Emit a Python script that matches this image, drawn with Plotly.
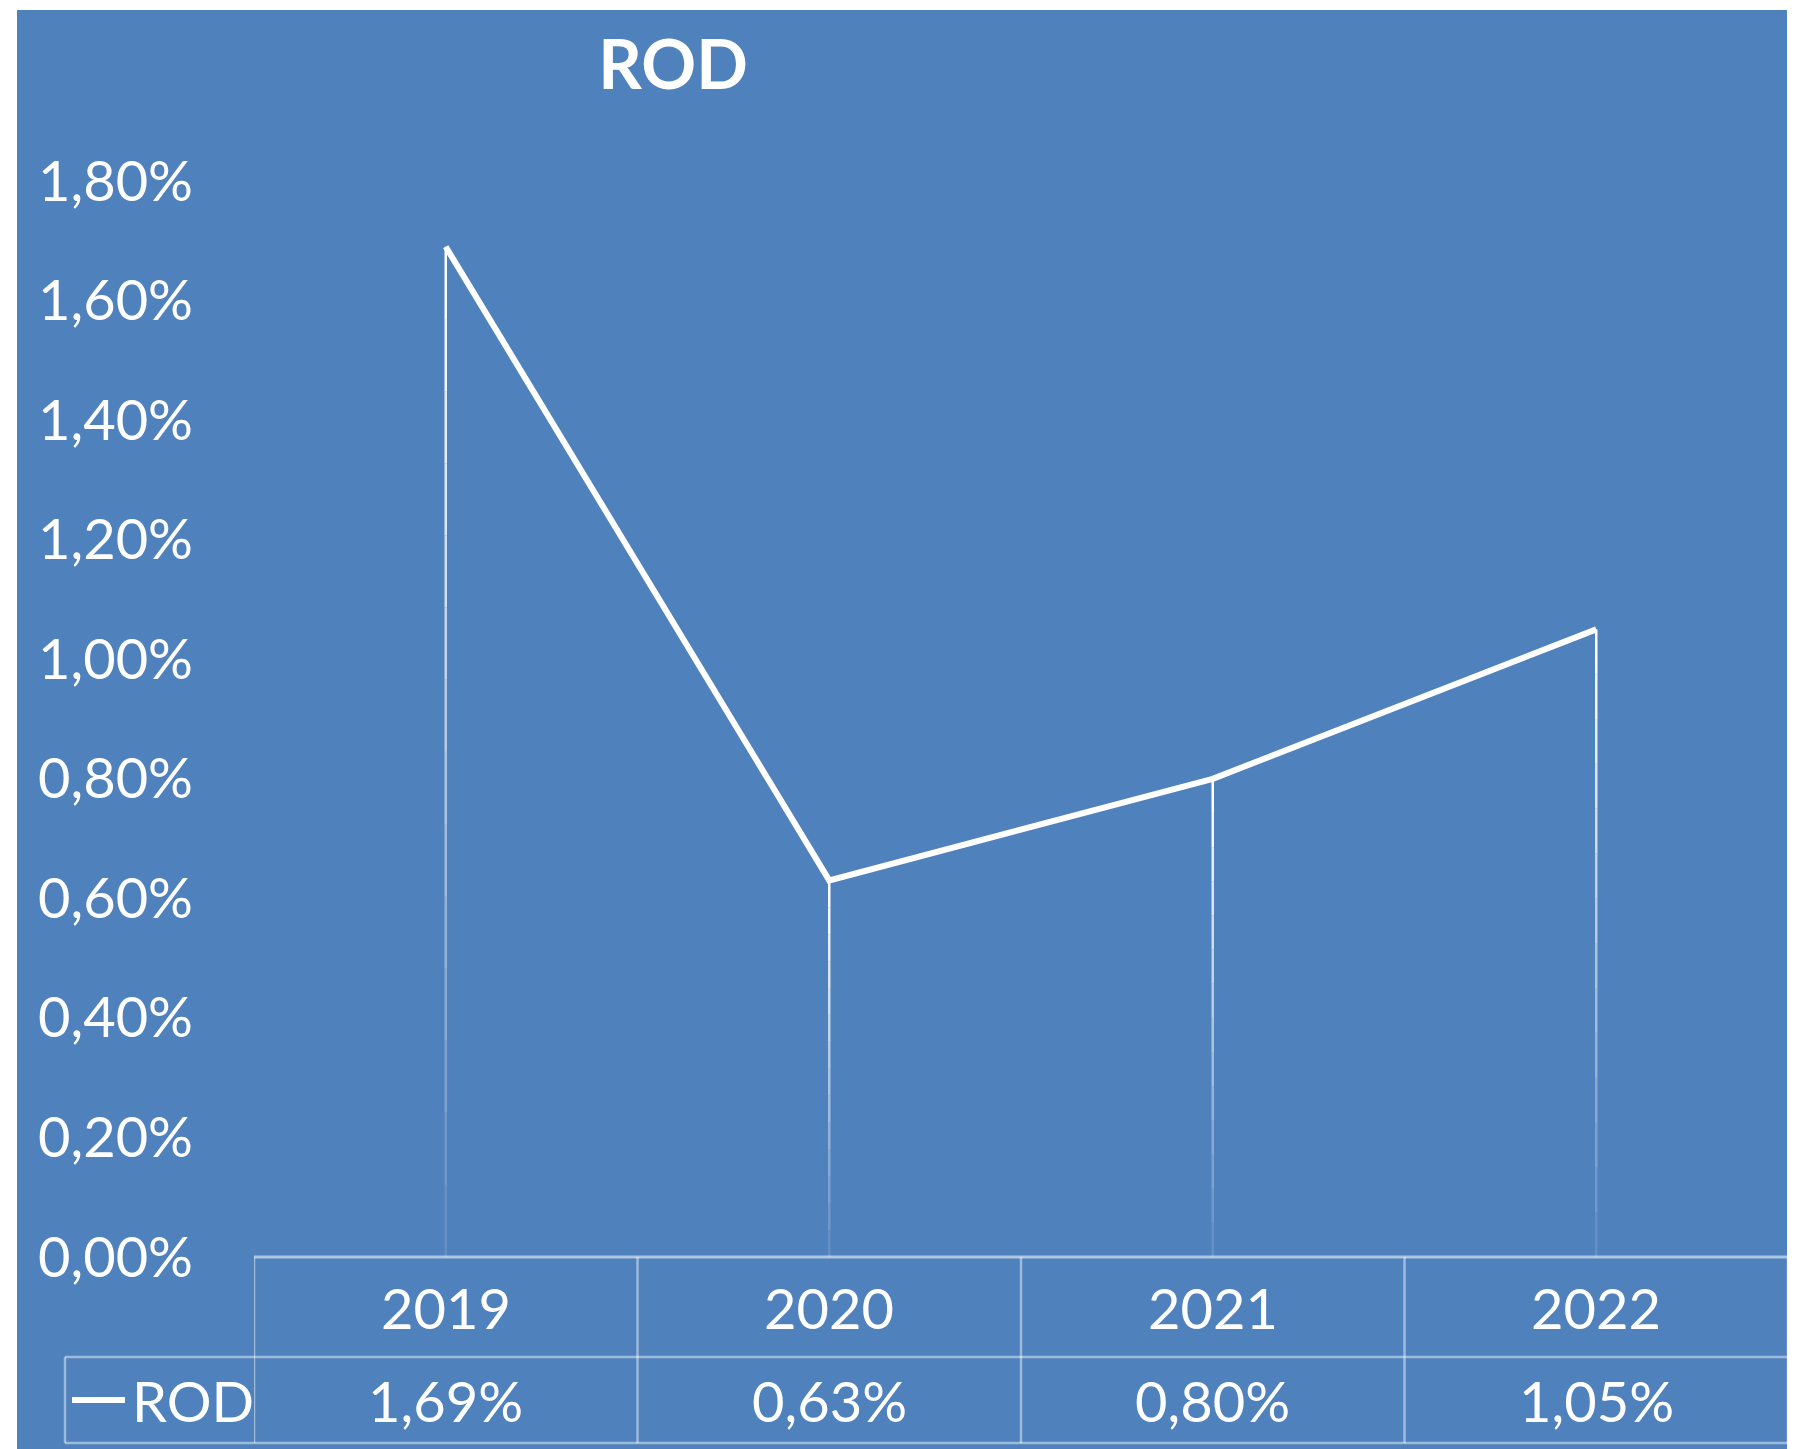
import plotly.graph_objects as go

# ---------- Data ----------
years = ["2019", "2020", "2021", "2022"]
rod = [0.0169, 0.0063, 0.0080, 0.0105]
series_name = "ROD"
y_ticks = [0.0, 0.002, 0.004, 0.006, 0.008, 0.010, 0.012, 0.014, 0.016, 0.018]

# ---------- Layout helpers (pixel -> paper) ----------
# page body has an 8px margin, so the figure is drawn 8px smaller and shifted
OFF = 8
W, H = 1795 - OFF, 1449 - OFF
L, R, T, B = 254 - OFF, 7, 181 - OFF, 192
PW, PH = W - L - R, H - T - B

def px(x):
    return (x - OFF - L) / PW

def py(y):
    return (H - B - (y - OFF)) / PH

BLUE = "#4F81BD"
GRID = "rgba(255,255,255,0.45)"
FONT = "Lato"

fig = go.Figure()

# drop lines with a fade toward the axis
n_seg = 14
for i, v in enumerate(rod):
    for k in range(n_seg):
        fig.add_trace(go.Scatter(
            x=[i, i], y=[v * k / n_seg, v * (k + 1) / n_seg],
            mode="lines", line=dict(color="white", width=2.5),
            opacity=0.05 + 0.95 * (k + 1) / n_seg,
            showlegend=False, hoverinfo="skip"))

# main line
fig.add_trace(go.Scatter(
    x=list(range(len(years))), y=rod, mode="lines", name=series_name,
    line=dict(color="white", width=6), showlegend=False))

# ---------- Data table under the plot ----------
row1 = py(1357)
row2 = py(1443)
leg_left = px(65)

shapes = [
    dict(type="rect", xref="paper", yref="paper", x0=px(17), x1=px(1795 + 20), y0=py(10), y1=py(1449 + 20),
         fillcolor=BLUE, line_width=0, layer="below"),
    # table horizontals
    dict(type="line", xref="paper", yref="paper", x0=0, x1=1, y0=0, y1=0,
         line=dict(color="rgba(255,255,255,0.55)", width=3)),
    dict(type="line", xref="paper", yref="paper", x0=leg_left, x1=1, y0=row1, y1=row1,
         line=dict(color=GRID, width=2.5)),
    dict(type="line", xref="paper", yref="paper", x0=leg_left, x1=1, y0=row2, y1=row2,
         line=dict(color=GRID, width=2.5)),
    dict(type="line", xref="paper", yref="paper", x0=leg_left, x1=leg_left, y0=row1, y1=row2,
         line=dict(color=GRID, width=2.5)),
]
for i in range(len(years) + 1):
    shapes.append(dict(type="line", xref="x", yref="paper", x0=i - 0.5, x1=i - 0.5,
                       y0=0, y1=row2, line=dict(color=GRID, width=2.5)))

# legend key in the table
shapes.append(dict(type="line", xref="paper", yref="paper", x0=px(72), x1=px(125),
                   y0=(row1 + row2) / 2, y1=(row1 + row2) / 2,
                   line=dict(color="white", width=6)))

annotations = []
for i, (yr, v) in enumerate(zip(years, rod)):
    annotations.append(dict(x=i, xref="x", y=(0 + row1) / 2, yref="paper", text=yr,
                            showarrow=False, font=dict(family=FONT, size=56, color="white"),
                            yanchor="middle"))
    annotations.append(dict(x=i, xref="x", y=(row1 + row2) / 2, yref="paper",
                            text=f"{v * 100:.2f}%".replace(".", ","),
                            showarrow=False, font=dict(family=FONT, size=56, color="white"),
                            yanchor="middle"))
annotations.append(dict(x=px(130), xref="paper", y=(row1 + row2) / 2, yref="paper",
                        text=series_name, showarrow=False, xanchor="left", yanchor="middle",
                        font=dict(family=FONT, size=56, color="white")))

fig.update_layout(
    width=W, height=H,
    margin=dict(l=L, r=R, t=T, b=B),
    paper_bgcolor="white", plot_bgcolor=BLUE,
    separators=",.",
    title=dict(text="<b>ROD</b>", x=(673 - OFF) / W, xanchor="center", xref="container",
               y=1 - (65 - OFF) / H, yanchor="middle", yref="container",
               font=dict(family=FONT, size=68, color="white")),
    shapes=shapes, annotations=annotations,
    showlegend=False,
)

fig.update_xaxes(range=[-0.5, len(years) - 0.5], showticklabels=False,
                 showgrid=False, zeroline=False, showline=False, ticks="")
fig.update_yaxes(range=[0, 0.018], tickvals=y_ticks, tickformat=".2%",
                 showgrid=False, zeroline=False, showline=False, ticks="",
                 ticklabelstandoff=60,
                 tickfont=dict(family=FONT, size=56, color="white"))

fig.write_html("out.html")
